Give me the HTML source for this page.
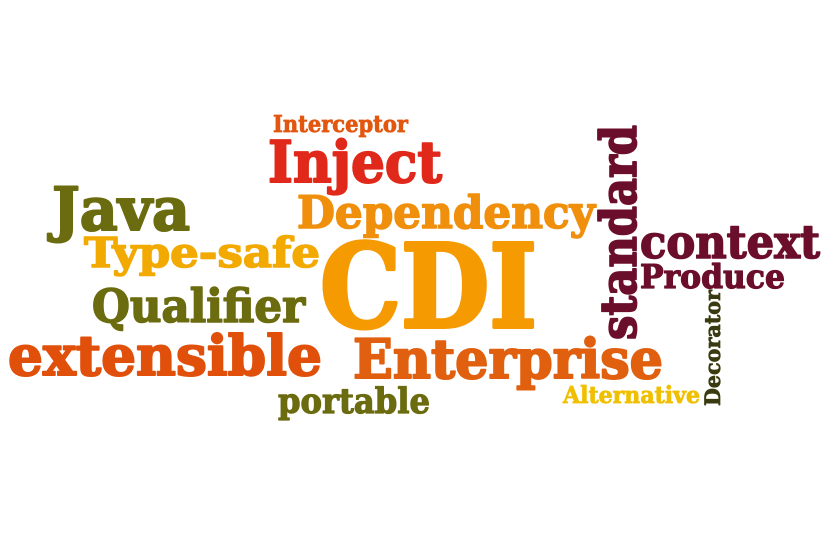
<!DOCTYPE html>
<html><head><meta charset="utf-8"><style>
html,body{margin:0;padding:0;background:#fff;}
svg{display:block;}
text{font-family:"DejaVu Serif","Liberation Serif",serif;font-weight:bold;stroke-linejoin:round;}
</style></head><body>
<svg width="834" height="537" viewBox="0 0 834 537">
<text x="273" y="132" font-size="23" fill="#e2570f" stroke="#e2570f" stroke-width="0.8" textLength="135" lengthAdjust="spacingAndGlyphs">Interceptor</text>
<text x="268" y="182" font-size="57" fill="#e0291a" stroke="#e0291a" stroke-width="2" textLength="174" lengthAdjust="spacingAndGlyphs">Inject</text>
<text x="52" y="230" font-size="60" fill="#6b6b0f" stroke="#6b6b0f" stroke-width="2" textLength="138" lengthAdjust="spacingAndGlyphs">Java</text>
<text x="297" y="228" font-size="45" fill="#f08f0c" stroke="#f08f0c" stroke-width="1.6" textLength="298" lengthAdjust="spacingAndGlyphs">Dependency</text>
<text x="84" y="267" font-size="41" fill="#f2a900" stroke="#f2a900" stroke-width="1.5" textLength="236" lengthAdjust="spacingAndGlyphs">Type-safe</text>
<text x="320" y="327" font-size="115" fill="#f59a00" stroke="#f59a00" stroke-width="4" textLength="217" lengthAdjust="spacingAndGlyphs">CDI</text>
<text transform="translate(636,340) rotate(-90)" x="0" y="0" font-size="50" fill="#6b0e2c" stroke="#6b0e2c" stroke-width="1.8" textLength="215" lengthAdjust="spacingAndGlyphs">standard</text>
<text x="640" y="258" font-size="46" fill="#6b0e2c" stroke="#6b0e2c" stroke-width="1.6" textLength="180" lengthAdjust="spacingAndGlyphs">context</text>
<text x="640" y="288" font-size="33" fill="#6b0e2c" stroke="#6b0e2c" stroke-width="1.2" textLength="145" lengthAdjust="spacingAndGlyphs">Produce</text>
<text x="92" y="322" font-size="46" fill="#6b6b0f" stroke="#6b6b0f" stroke-width="1.6" textLength="213" lengthAdjust="spacingAndGlyphs">Qualifier</text>
<text x="8" y="375" font-size="55" fill="#e0500b" stroke="#e0500b" stroke-width="2" textLength="314" lengthAdjust="spacingAndGlyphs">extensible</text>
<text x="353" y="378" font-size="54" fill="#e0600f" stroke="#e0600f" stroke-width="2" textLength="310" lengthAdjust="spacingAndGlyphs">Enterprise</text>
<text x="278" y="413" font-size="35" fill="#6b6b0f" stroke="#6b6b0f" stroke-width="1.2" textLength="152" lengthAdjust="spacingAndGlyphs">portable</text>
<text x="563" y="403" font-size="23" fill="#f0c000" stroke="#f0c000" stroke-width="0.8" textLength="137" lengthAdjust="spacingAndGlyphs">Alternative</text>
<text transform="translate(720,406) rotate(-90)" x="0" y="0" font-size="21" fill="#3a3a10" stroke="#3a3a10" stroke-width="0.7" textLength="116" lengthAdjust="spacingAndGlyphs">Decorator</text>
</svg>
</body></html>
